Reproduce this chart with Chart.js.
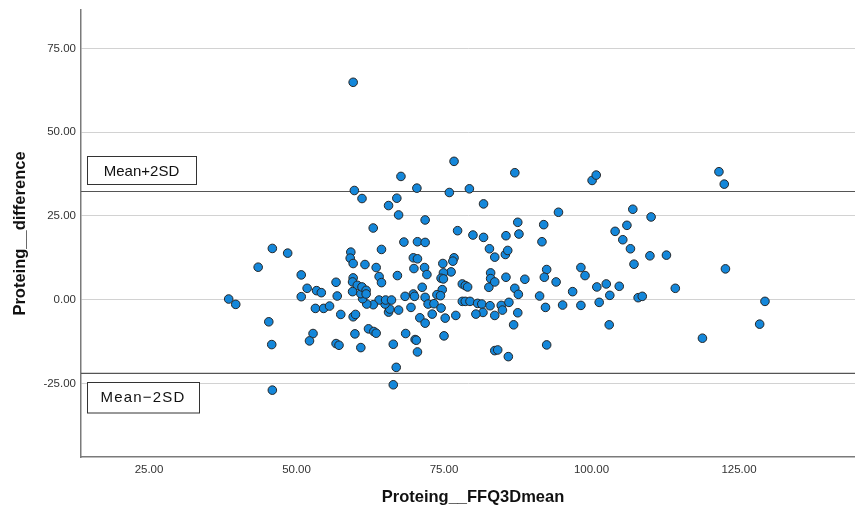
<!DOCTYPE html>
<html>
<head>
<meta charset="utf-8">
<script src="https://cdn.jsdelivr.net/npm/chart.js@4.4.1/dist/chart.umd.min.js"></script>
<style>
  html, body { margin: 0; padding: 0; background: #ffffff; }
  #wrap { width: 855px; height: 513px; position: relative; }
</style>
</head>
<body>
<div id="wrap"><canvas id="c" width="855" height="513"></canvas></div>
<script>
// ---- data ----
const meanValues = [
  38.5, 39.7, 43.5, 45.3, 45.9, 45.8, 45.9, 48.5, 50.8, 50.8,
  51.8, 53.4, 54.2, 53.2, 54.6, 55.6, 52.8, 52.2, 56.7, 56.9,
  57.5, 56.7, 57.2, 59.8, 59.6, 61.1, 59.2, 59.1, 59.6, 61.6,
  59.6, 59.5, 60.3, 59.5, 59.6, 60.0, 59.9, 60.9, 76.7, 67.7,
  70.4, 75.9, 79.3, 65.6, 67.0, 67.3, 71.8, 81.7, 63.0, 77.3,
  79.9, 81.7, 85.5, 68.2, 70.5, 71.8, 64.4, 82.7, 83.6, 85.4,
  85.8, 69.8, 70.5, 69.9, 71.7, 72.1, 63.5, 64.0, 64.4, 67.1,
  74.8, 76.7, 76.5, 76.2, 74.9, 74.5, 74.9, 74.7, 71.3, 73.8,
  74.4, 71.8, 72.3, 73.3, 74.5, 73.0, 75.2, 77.0, 70.9, 71.8,
  69.8, 68.4, 69.4, 67.3, 65.6, 65.8, 65.0, 64.0, 65.1, 66.1,
  63.0, 61.9, 61.2, 60.9, 61.1, 61.8, 61.8, 62.2, 63.1, 63.5,
  68.5, 70.1, 70.3, 70.5, 66.4, 75.0, 66.9, 66.4, 78.1, 78.6,
  79.0, 82.6, 82.9, 82.9, 83.6, 85.5, 78.1, 78.6, 79.4, 80.7,
  81.4, 82.8, 81.6, 80.4, 83.6, 84.7, 84.9, 86.0, 83.6, 84.1,
  87.0, 100.1, 100.8, 94.4, 107.0, 87.5, 91.9, 87.7, 91.6, 104.0,
  106.0, 105.3, 106.6, 107.2, 92.4, 92.0, 98.2, 98.9, 88.7, 94.0,
  87.0, 87.6, 91.2, 96.8, 100.9, 102.5, 104.7, 103.1, 107.9, 108.6,
  87.5, 92.2, 95.1, 98.2, 101.3, 86.8, 103.0, 92.4, 85.9, 121.6,
  122.5, 110.1, 109.9, 112.7, 122.7, 114.2, 129.4, 128.5, 118.8, 70.0
];
const diffValues = [
  0.2, -1.4, 9.7, -6.6, 15.3, -13.4, -27.0, 13.9, 7.4, 0.9,
  3.4, 2.7, 2.1, -2.6, -2.6, -1.9, -10.1, -12.3, 5.2, 1.1,
  -4.4, -13.1, -13.6, 32.6, 64.9, 30.2, 14.2, 12.4, 10.8, 10.5,
  6.5, 5.3, 4.3, 2.4, -5.1, -4.4, -10.2, -14.3, 41.3, 36.8,
  33.3, 32.0, 33.1, 28.1, 30.3, 25.3, 23.8, 28.6, 21.4, 20.6,
  19.3, 18.6, 19.1, 17.2, 17.3, 17.1, 15.0, 15.2, 12.7, 13.5,
  14.7, 12.5, 12.2, 9.3, 9.6, 7.5, 9.6, 6.9, 5.1, 7.2,
  10.8, 12.5, 11.5, 8.3, 8.0, 6.4, 6.2, 3.0, 3.7, 1.5,
  1.2, 0.7, -1.3, -1.2, -2.5, -4.3, -5.5, -4.7, -5.4, -7.0,
  1.7, 1.0, -2.3, -3.1, -3.7, -2.8, -1.3, -0.1, -0.1, -0.1,
  -1.5, -1.3, 0.3, 1.8, 3.8, 2.8, 1.7, -8.7, -9.5, -10.0,
  -10.1, -11.9, -12.1, -15.6, -13.3, -10.8, -20.2, -25.4, 4.7, 4.2,
  3.8, 3.7, 8.0, 6.3, 5.3, 6.7, -0.5, -0.5, -0.5, -1.1,
  -1.3, -1.8, -3.8, -4.3, -4.7, -1.7, -3.1, -0.8, -15.2, -15.0,
  37.9, 35.6, 37.2, 26.1, 27.0, 23.1, 22.4, 19.6, 17.3, 20.4,
  22.2, 17.9, 15.2, 10.6, 9.0, 6.7, 9.6, 7.2, 6.1, 5.3,
  3.4, 1.6, 1.1, 2.4, 3.8, 4.7, 4.0, 1.3, 0.6, 1.0,
  -3.9, -2.3, -1.6, -1.7, -0.8, -7.5, -7.5, -13.5, -17.0, 38.2,
  34.5, 24.7, 13.1, 13.3, 9.2, 3.4, -0.5, -7.3, -11.5, 1.0
];
const upperLimit = 32.3;   // Mean+2SD
const lowerLimit = -22.0;  // Mean-2SD
const limitLabels = ['Mean+2SD', 'Mean\u22122SD'];
const xTicks = [25, 50, 75, 100, 125];
const yTicks = [-25, 0, 25, 50, 75];
const xTitle = 'Proteing__FFQ3Dmean';
const yTitle = 'Proteing__difference';

const X_MIN = 13.47, X_MAX = 144.66;
const Y_MIN = -46.96, Y_MAX = 86.48;

const points = meanValues.map((v, i) => ({ x: v, y: diffValues[i] }));

const FONT = "'Liberation Sans', Arial, Helvetica, sans-serif";

const extrasPlugin = {
  id: 'extras',
  afterDatasetsDraw(chart) {
    const ctx = chart.ctx;
    const ys = chart.scales.y;
    const area = chart.chartArea;
    ctx.save();
    const upPx = ys.getPixelForValue(upperLimit);
    const loPx = ys.getPixelForValue(lowerLimit);
    const boxes = [
      { text: limitLabels[0], x: area.left + 6, y: upPx - 35, w: 109, h: 28, spacing: '0px' },
      { text: limitLabels[1], x: area.left + 6, y: loPx + 8.5, w: 112, h: 30.5, spacing: '1.2px' }
    ];
    boxes.forEach(b => {
      ctx.fillStyle = '#ffffff';
      ctx.fillRect(b.x, b.y, b.w, b.h);
      ctx.strokeStyle = '#333333';
      ctx.lineWidth = 1;
      ctx.strokeRect(Math.round(b.x) + 0.5, Math.round(b.y) + 0.5, b.w, b.h);
      ctx.fillStyle = '#111111';
      ctx.font = "15px " + FONT;
      try { ctx.letterSpacing = b.spacing; } catch (e) {}
      ctx.textAlign = 'center';
      ctx.textBaseline = 'middle';
      ctx.fillText(b.text, b.x + b.w / 2, b.y + b.h / 2 + 1);
      try { ctx.letterSpacing = '0px'; } catch (e) {}
    });
    ctx.fillStyle = '#111111';
    ctx.font = "bold 16.5px " + FONT;
    ctx.textAlign = 'center';
    ctx.textBaseline = 'middle';
    ctx.fillText(xTitle, 473, 497);
    ctx.translate(20, (area.top + area.bottom) / 2);
    ctx.rotate(-Math.PI / 2);
    ctx.fillText(yTitle, 0, 0);
    ctx.restore();
  }
};

new Chart(document.getElementById('c'), {
  type: 'scatter',
  data: {
    datasets: [
      {
        label: 'points',
        data: points,
        backgroundColor: '#1487DA',
        borderColor: '#262626',
        borderWidth: 1,
        pointRadius: 4.3,
        order: 1
      },
      {
        type: 'line',
        label: 'upper',
        data: [{ x: X_MIN, y: upperLimit }, { x: X_MAX, y: upperLimit }],
        borderColor: '#555555',
        borderWidth: 1.2,
        pointRadius: 0,
        fill: false,
        order: 2
      },
      {
        type: 'line',
        label: 'lower',
        data: [{ x: X_MIN, y: lowerLimit }, { x: X_MAX, y: lowerLimit }],
        borderColor: '#555555',
        borderWidth: 1.2,
        pointRadius: 0,
        fill: false,
        order: 2
      }
    ]
  },
  options: {
    responsive: false,
    animation: false,
    devicePixelRatio: 1,
    layout: { autoPadding: false, padding: { top: 10, right: 0, left: 0, bottom: 0 } },
    plugins: { legend: { display: false }, tooltip: { enabled: false }, title: { display: false } },
    scales: {
      x: {
        type: 'linear',
        min: X_MIN,
        max: X_MAX,
        afterBuildTicks: s => { s.ticks = xTicks.map(v => ({ value: v })); },
        afterFit: s => { s.height = 56; s.paddingLeft = 0; s.paddingRight = 0; },
        grid: { display: false, drawTicks: false },
        border: { display: true, color: '#7a7a7a', width: 1.5 },
        ticks: {
          callback: v => Number(v).toFixed(2),
          font: { family: FONT, size: 11.5 },
          color: '#333333',
          padding: 6,
          maxRotation: 0,
          autoSkip: false
        }
      },
      y: {
        type: 'linear',
        min: Y_MIN,
        max: Y_MAX,
        afterBuildTicks: s => { s.ticks = yTicks.map(v => ({ value: v })); },
        afterFit: s => { s.width = 81; s.paddingTop = 0; s.paddingBottom = 0; },
        grid: { color: '#d2d2d2', lineWidth: 1, drawTicks: false },
        border: { display: true, color: '#7a7a7a', width: 1.5 },
        ticks: {
          callback: v => Number(v).toFixed(2),
          font: { family: FONT, size: 11.5 },
          color: '#333333',
          padding: 5,
          autoSkip: false
        }
      }
    }
  },
  plugins: [extrasPlugin]
});
</script>
</body>
</html>
